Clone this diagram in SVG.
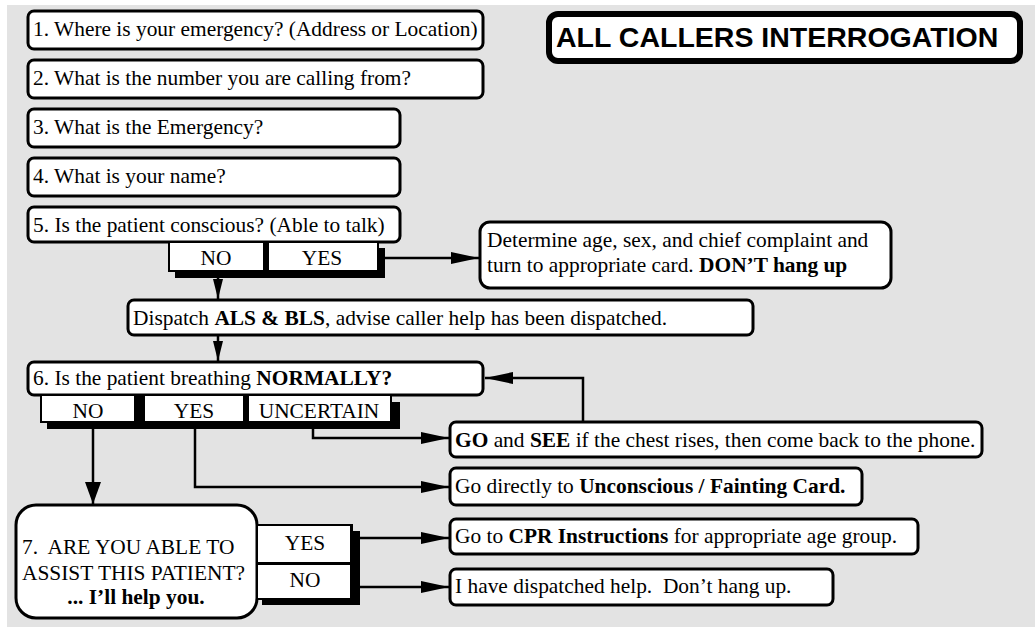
<svg xmlns="http://www.w3.org/2000/svg" width="1035" height="637" viewBox="0 0 1035 637">
<style>
.box{fill:#fff;stroke:#000;stroke-width:3}
.t{font-family:"Liberation Serif","Times New Roman",serif;font-size:21.4px;fill:#000}
.b{font-weight:bold}
.c{text-anchor:middle}
.con{fill:none;stroke:#000;stroke-width:2.5}
.sh{fill:#000}
</style>
<defs>
<marker id="ah" markerUnits="userSpaceOnUse" markerWidth="30" markerHeight="14" refX="28" refY="6" orient="auto">
<path d="M0,0 L28,6 L0,12 z" fill="#000"/>
</marker>
<marker id="ahs" markerUnits="userSpaceOnUse" markerWidth="24" markerHeight="14" refX="20" refY="5" orient="auto">
<path d="M0,0 L20,5 L0,10 z" fill="#000"/>
</marker>
<marker id="ahb" markerUnits="userSpaceOnUse" markerWidth="24" markerHeight="18" refX="22" refY="8" orient="auto">
<path d="M0,0 L22,8 L0,16 z" fill="#000"/>
</marker>
</defs>
<rect x="0" y="0" width="1035" height="637" fill="#fff"/>
<rect x="7" y="5" width="1028" height="622" fill="#e3e3e3"/>

<g id="title">
<rect x="549" y="14" width="471" height="47" rx="9" fill="#fff" stroke="#000" stroke-width="6"/>
<text x="556" y="47" font-family="Liberation Sans, Arial, sans-serif" font-weight="bold" font-size="28.5" fill="#000">ALL CALLERS INTERROGATION</text>
</g>

<g id="q1">
<rect class="box" x="28" y="11" width="455" height="38" rx="6"/>
<text class="t" x="33" y="36">1. Where is your emergency? (Address or Location)</text>
</g>
<g id="q2">
<rect class="box" x="28" y="60" width="455" height="38" rx="6"/>
<text class="t" x="33" y="85">2. What is the number you are calling from?</text>
</g>
<g id="q3">
<rect class="box" x="28" y="109" width="372" height="38" rx="6"/>
<text class="t" x="33" y="134">3. What is the Emergency?</text>
</g>
<g id="q4">
<rect class="box" x="28" y="158" width="372" height="38" rx="6"/>
<text class="t" x="33" y="183">4. What is your name?</text>
</g>
<g id="q5">
<rect class="box" x="28" y="207" width="372" height="35" rx="6"/>
<text class="t" x="33" y="232">5. Is the patient conscious? (Able to talk)</text>
</g>
<g id="q5-options">
<rect class="sh" x="175" y="248" width="210" height="30"/>
<rect class="sh" x="168" y="241" width="211" height="31"/>
<rect x="170" y="243" width="93" height="27" fill="#fff"/>
<rect x="269" y="243" width="108" height="27" fill="#fff"/>
<text class="t c" x="216" y="265">NO</text>
<text class="t c" x="322" y="265">YES</text>
</g>
<g id="determine">
<rect class="box" x="480" y="222" width="411" height="66" rx="10"/>
<text class="t" x="487" y="247">Determine age, sex, and chief complaint and</text>
<text class="t" x="487" y="272">turn to appropriate card. <tspan class="b">DON’T hang up</tspan></text>
</g>
<g id="dispatch">
<rect class="box" x="128" y="300" width="625" height="35" rx="6"/>
<text class="t" x="133" y="325">Dispatch <tspan class="b">ALS &amp; BLS</tspan>, advise caller help has been dispatched.</text>
</g>
<g id="q6">
<rect class="box" x="28" y="362" width="455" height="33" rx="6"/>
<text class="t" x="33" y="385">6. Is the patient breathing <tspan class="b">NORMALLY?</tspan></text>
</g>
<g id="q6-options">
<rect class="sh" x="47" y="402" width="353" height="27"/>
<rect class="sh" x="40" y="394" width="352" height="29"/>
<rect x="42" y="396" width="92" height="25" fill="#fff"/>
<rect x="145" y="396" width="98" height="25" fill="#fff"/>
<rect x="249" y="396" width="141" height="25" fill="#fff"/>
<text class="t c" x="88" y="418">NO</text>
<text class="t c" x="194" y="418">YES</text>
<text class="t c" x="319" y="418">UNCERTAIN</text>
</g>
<g id="go-see">
<rect class="box" x="450" y="422" width="532" height="35" rx="6"/>
<text class="t" x="455" y="447"><tspan class="b">GO</tspan> and <tspan class="b">SEE</tspan> if the chest rises, then come back to the phone.</text>
</g>
<g id="unconscious">
<rect class="box" x="450" y="468" width="412" height="37" rx="6"/>
<text class="t" x="455" y="493">Go directly to <tspan class="b">Unconscious / Fainting Card.</tspan></text>
</g>
<g id="q7">
<rect class="box" x="16" y="505" width="241" height="113" rx="20"/>
<text class="t" x="22" y="554">7.&#160; ARE YOU ABLE TO</text>
<text class="t" x="22" y="580">ASSIST THIS PATIENT?</text>
<text class="t b c" x="136" y="604">... I’ll help you.</text>
</g>
<g id="q7-options">
<rect class="sh" x="262" y="531" width="98" height="74"/>
<rect class="sh" x="256" y="524" width="97" height="76"/>
<rect x="258" y="526" width="92" height="36" fill="#fff"/>
<rect x="258" y="565" width="92" height="33" fill="#fff"/>
<text class="t c" x="305" y="550">YES</text>
<text class="t c" x="305" y="587">NO</text>
</g>
<g id="cpr">
<rect class="box" x="450" y="519" width="468" height="35" rx="6"/>
<text class="t" x="455" y="543">Go to <tspan class="b">CPR Instructions</tspan> for appropriate age group.</text>
</g>
<g id="dont-hang-up">
<rect class="box" x="450" y="569" width="383" height="36" rx="6"/>
<text class="t" x="455" y="593">I have dispatched help.&#160; Don’t hang up.</text>
</g>

<g id="connectors">
<path class="con" d="M385,258 H479" marker-end="url(#ah)"/>
<path class="con" d="M218,278 V299" marker-end="url(#ahs)"/>
<path class="con" d="M218,336 V361" marker-end="url(#ahs)"/>
<path class="con" d="M583,421 V378 H485" marker-end="url(#ah)"/>
<path class="con" d="M313,429 V438 H449" marker-end="url(#ah)"/>
<path class="con" d="M195,429 V487 H449" marker-end="url(#ah)"/>
<path class="con" d="M93,429 V504" marker-end="url(#ahb)"/>
<path class="con" d="M360,538 H449" marker-end="url(#ah)"/>
<path class="con" d="M360,587 H449" marker-end="url(#ah)"/>
</g>
</svg>
